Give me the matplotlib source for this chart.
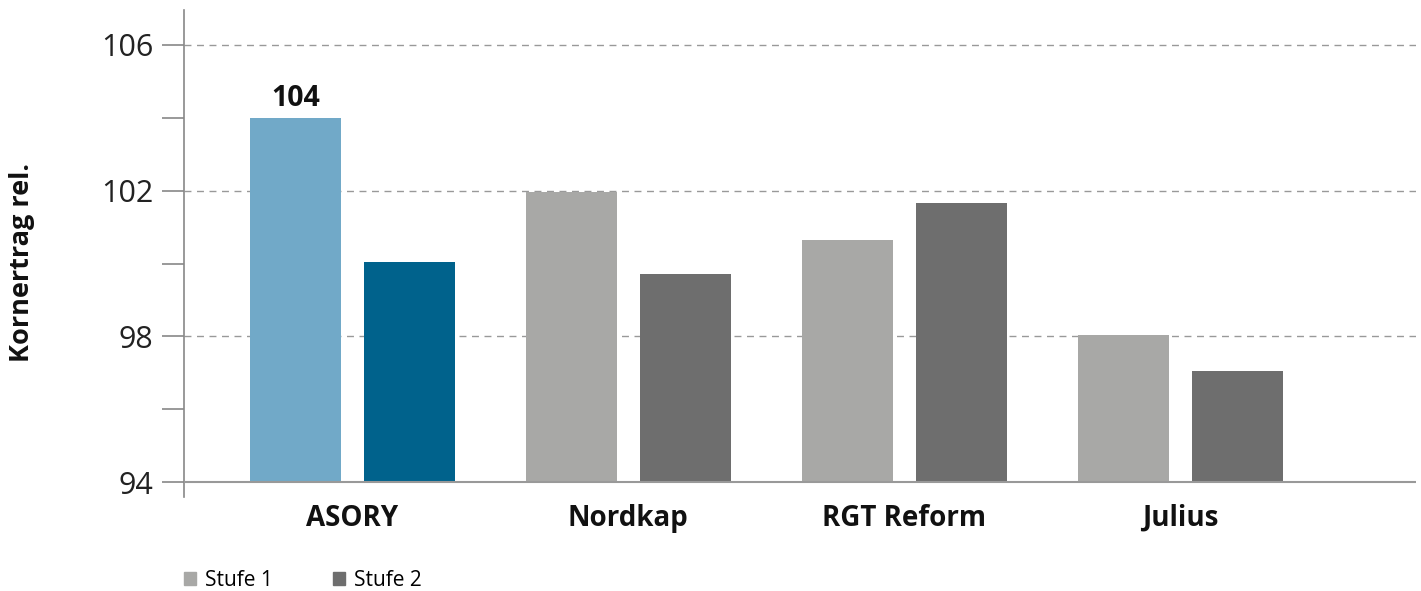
import matplotlib
matplotlib.use('Agg')
import matplotlib.pyplot as plt
from matplotlib.patches import Patch
import numpy as np

plt.rcParams['font.family'] = ['Open Sans', 'DejaVu Sans']

categories = ['ASORY', 'Nordkap', 'RGT Reform', 'Julius']
stufe1 = [104.0, 101.95, 100.65, 98.05]
stufe2 = [100.05, 99.7, 101.65, 97.05]
series_labels = ['Stufe 1', 'Stufe 2']

colors1 = ['#71a9c8', '#a8a8a6', '#a8a8a6', '#a8a8a6']
colors2 = ['#00628c', '#6e6e6e', '#6e6e6e', '#6e6e6e']
base = 94

fig = plt.figure(figsize=(14.21, 5.91), dpi=100)
ax = fig.add_axes([184/1421, 1-497/591, (1416-184)/1421, (497-10)/591])

x = np.arange(len(categories))
w = 0.33
off = 0.2065
ax.bar(x - off, np.array(stufe1) - base, w, bottom=base, color=colors1, zorder=3)
ax.bar(x + off, np.array(stufe2) - base, w, bottom=base, color=colors2, zorder=3)

# value label on the highlighted bar
ax.text(x[0] - off, stufe1[0] + 0.12, '{:.0f}'.format(stufe1[0]), ha='center', va='bottom',
        fontsize=20.5, fontweight='bold', color='#111111')

ax.set_xlim(-0.61, 3.854)
ax.set_ylim(93.59, 106.96)
ax.set_yticks([94, 98, 102, 106])
ax.set_yticks([96, 100, 104], minor=True)
ax.tick_params(axis='y', which='both', length=16, width=1.2, color='#888888',
               labelsize=22, pad=6, labelcolor='#222222')
ax.set_xticks(x)
ax.set_xticklabels(categories, fontsize=20, fontweight='bold', color='#111111')
ax.tick_params(axis='x', length=0, pad=5)

for s in ['top', 'right', 'bottom']:
    ax.spines[s].set_visible(False)
ax.spines['left'].set_color('#888888')
ax.spines['left'].set_linewidth(1.2)
ax.axhline(base, color='#999999', lw=1.5, zorder=4)
for g in [98, 102, 106]:
    ax.axhline(g, color='#999999', lw=1, dashes=(5, 4), zorder=1)

fig.text(22/1421, 1-262/591, 'Kornertrag rel.', rotation=90, ha='center', va='center',
         fontsize=19.5, fontweight='bold', color='#111111')

handles = [Patch(color='#a8a8a6'), Patch(color='#6e6e6e')]
fig.legend(handles, series_labels, loc='center left', bbox_to_anchor=(165/1421, 1-580/591),
           ncol=2, frameon=False, fontsize=15, handlelength=0.6, handleheight=0.6,
           handletextpad=0.4, columnspacing=2.9)

plt.savefig('out.png', dpi=100)
